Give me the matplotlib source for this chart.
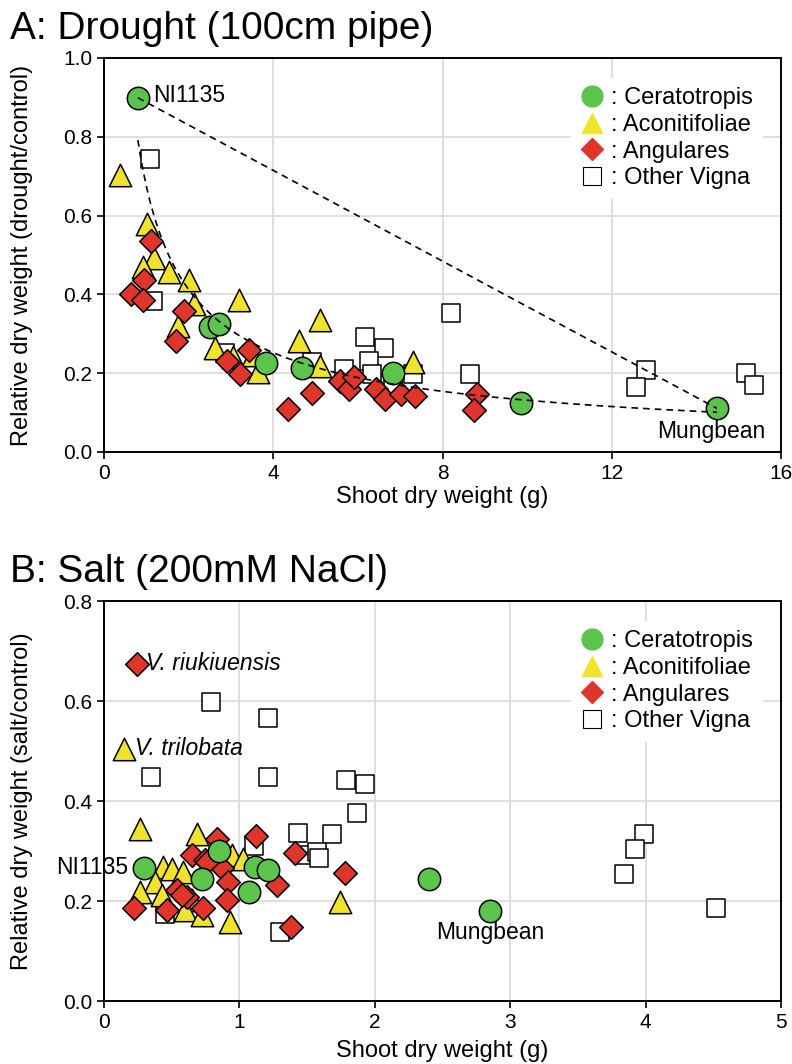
import numpy as np
import matplotlib
matplotlib.use("Agg")
import matplotlib.pyplot as plt
from matplotlib.lines import Line2D

plt.rcParams['font.family'] = ['Liberation Sans', 'DejaVu Sans']

GREEN = "#5cc34d"
YELLOW = "#efe32c"
RED = "#e0352a"

# ---- Panel A: drought (shoot dry weight g, relative dry weight) ----
a_cer_x = [0.80, 2.50, 2.71, 3.83, 4.68, 6.84, 9.85, 14.48]
a_cer_y = [0.899, 0.317, 0.326, 0.226, 0.214, 0.200, 0.125, 0.111]

a_aco_x = [0.37, 1.01, 1.17, 0.92, 1.53, 2.02, 2.13, 3.18, 1.75, 2.63, 3.06,
           3.53, 3.65, 4.61, 5.11, 5.11, 7.31]
a_aco_y = [0.703, 0.578, 0.493, 0.469, 0.458, 0.437, 0.376, 0.385, 0.319, 0.265,
           0.241, 0.245, 0.203, 0.281, 0.334, 0.217, 0.228]

a_ang_x = [1.11, 0.94, 0.65, 0.92, 1.88, 1.71, 2.91, 3.42, 3.22, 4.35, 4.91,
           5.58, 5.78, 5.90, 6.43, 6.65, 7.02, 7.34, 8.81, 8.75]
a_ang_y = [0.535, 0.436, 0.402, 0.385, 0.359, 0.281, 0.232, 0.258, 0.198, 0.110,
           0.149, 0.181, 0.160, 0.190, 0.160, 0.135, 0.146, 0.143, 0.146, 0.107]

a_oth_x = [1.09, 1.15, 2.85, 4.91, 5.66, 6.16, 6.62, 6.25, 6.33, 6.84, 7.31,
           8.20, 8.65, 12.80, 12.57, 15.17, 15.35]
a_oth_y = [0.743, 0.382, 0.251, 0.228, 0.211, 0.293, 0.265, 0.232, 0.198, 0.164,
           0.197, 0.352, 0.197, 0.209, 0.164, 0.200, 0.171]

# ---- Panel B: salt ----
b_cer_x = [0.299, 0.722, 0.852, 1.074, 1.116, 1.214, 2.40, 2.85]
b_cer_y = [0.267, 0.245, 0.301, 0.219, 0.269, 0.262, 0.245, 0.181]

b_aco_x = [0.151, 0.267, 0.686, 0.944, 0.439, 0.501, 0.587, 0.378, 0.267, 0.427,
           0.649, 0.599, 0.722, 0.931, 1.74, 1.03]
b_aco_y = [0.505, 0.345, 0.335, 0.293, 0.269, 0.265, 0.259, 0.239, 0.219, 0.212,
           0.202, 0.182, 0.172, 0.159, 0.199, 0.285]

b_ang_x = [0.243, 0.833, 1.123, 0.649, 0.747, 0.870, 0.919, 1.28, 0.907, 0.538,
           0.616, 0.464, 0.223, 0.733, 1.41, 1.78, 1.379, 0.575, 0.759]
b_ang_y = [0.675, 0.325, 0.330, 0.292, 0.282, 0.267, 0.239, 0.232, 0.202, 0.222,
           0.209, 0.182, 0.187, 0.186, 0.297, 0.257, 0.149, 0.212, 0.279]

b_oth_x = [0.789, 1.214, 0.348, 1.21, 1.79, 1.93, 1.87, 1.43, 1.68, 1.108, 1.47,
           1.57, 1.59, 1.30, 0.452, 3.99, 3.92, 3.84, 4.52]
b_oth_y = [0.599, 0.567, 0.449, 0.449, 0.443, 0.435, 0.377, 0.337, 0.335, 0.310,
           0.292, 0.299, 0.287, 0.139, 0.175, 0.334, 0.304, 0.254, 0.186]

LEGEND_LABELS = [": Ceratotropis", ": Aconitifoliae", ": Angulares", ": Other Vigna"]

fig = plt.figure(figsize=(7.92, 10.64), dpi=100)
axA = fig.add_axes([0.1313, 0.5752, 0.855, 0.3703])
axB = fig.add_axes([0.1313, 0.0592, 0.855, 0.3759])


def draw_groups(ax, cer, aco, ang, oth):
    ew = 1.1
    ax.scatter(*oth, marker='s', s=170, facecolor='white', edgecolor='black',
               linewidth=ew, zorder=3)
    ax.scatter(*aco, marker='^', s=260, facecolor=YELLOW, edgecolor='black',
               linewidth=ew, zorder=4)
    ax.scatter(*ang, marker='D', s=145, facecolor=RED, edgecolor='black',
               linewidth=ew, zorder=5)
    ax.scatter(*cer, marker='o', s=260, facecolor=GREEN, edgecolor='black',
               linewidth=ew, zorder=6)


def style_axes(ax, xlim, ylim, xticks, yticks, ylabel, xpad):
    ax.set_xlim(*xlim)
    ax.set_ylim(*ylim)
    ax.set_xticks(xticks)
    ax.set_yticks(yticks)
    ax.set_yticklabels([f"{v:.1f}" for v in yticks])
    ax.grid(True, color='#dcdcdc', linewidth=1.3, zorder=0)
    ax.set_axisbelow(True)
    for sp in ax.spines.values():
        sp.set_color('black')
        sp.set_linewidth(1.4)
    ax.tick_params(labelsize=15, length=5, width=1.2, direction='out')
    ax.set_xlabel("Shoot dry weight (g)", fontsize=17, labelpad=xpad)
    ax.set_ylabel(ylabel, fontsize=17)
    ax.yaxis.set_label_coords(-0.105, 0.5)
    handles = [
        Line2D([], [], marker='o', linestyle='none', markersize=15,
               markerfacecolor=GREEN, markeredgecolor=GREEN),
        Line2D([], [], marker='^', linestyle='none', markersize=15,
               markerfacecolor=YELLOW, markeredgecolor=YELLOW),
        Line2D([], [], marker='D', linestyle='none', markersize=11,
               markerfacecolor=RED, markeredgecolor=RED),
        Line2D([], [], marker='s', linestyle='none', markersize=13,
               markerfacecolor='white', markeredgecolor='black', markeredgewidth=0.8),
    ]
    leg = ax.legend(handles, LEGEND_LABELS, loc='upper right', fontsize=17,
                    frameon=True, framealpha=1, edgecolor='none', fancybox=False,
                    handlelength=1.0, handletextpad=0.3, labelspacing=0.2,
                    borderpad=0.4, bbox_to_anchor=(0.99, 0.98))
    leg.set_zorder(10)


# Panel A
draw_groups(axA, (a_cer_x, a_cer_y), (a_aco_x, a_aco_y),
            (a_ang_x, a_ang_y), (a_oth_x, a_oth_y))
# straight line NI1135 -> Mungbean
axA.plot([a_cer_x[0], a_cer_x[-1]], [a_cer_y[0], a_cer_y[-1]], color='black',
         linestyle=(0, (4, 3)), linewidth=1.2, zorder=7)
# power trendline fitted to the Ceratotropis points
b, ln_a = np.polyfit(np.log(a_cer_x), np.log(a_cer_y), 1)
xs = np.linspace(min(a_cer_x), max(a_cer_x), 300)
axA.plot(xs, np.exp(ln_a) * xs ** b, color='black', linestyle=(0, (4, 3)),
         linewidth=1.2, zorder=7)
style_axes(axA, (0, 16), (0, 1.0), [0, 4, 8, 12, 16],
           [0.0, 0.2, 0.4, 0.6, 0.8, 1.0], "Relative dry weight (drought/control)", 2)
axA.text(1.15, 0.905, "NI1135", fontsize=16.5, va='center', ha='left', zorder=8)
axA.text(14.35, 0.053, "Mungbean", fontsize=16.5, va='center', ha='center', zorder=8)

# Panel B
draw_groups(axB, (b_cer_x, b_cer_y), (b_aco_x, b_aco_y),
            (b_ang_x, b_ang_y), (b_oth_x, b_oth_y))
style_axes(axB, (0, 5), (0, 0.8), [0, 1, 2, 3, 4, 5],
           [0.0, 0.2, 0.4, 0.6, 0.8], "Relative dry weight (salt/control)", 6)
axB.text(0.31, 0.675, "V. riukiuensis", fontsize=16.5, style='italic',
         va='center', ha='left')
axB.text(0.23, 0.505, "V. trilobata", fontsize=16.5, style='italic',
         va='center', ha='left')
axB.text(0.18, 0.267, "NI1135", fontsize=16.5, va='center', ha='right',
         clip_on=False)
axB.text(2.85, 0.137, "Mungbean", fontsize=16.5, va='center', ha='center')

fig.text(0.013, 0.9633, "A: Drought (100cm pipe)", fontsize=28, va='baseline')
fig.text(0.013, 0.453, "B: Salt (200mM NaCl)", fontsize=28, va='baseline')

fig.savefig("out.png", dpi=100)
